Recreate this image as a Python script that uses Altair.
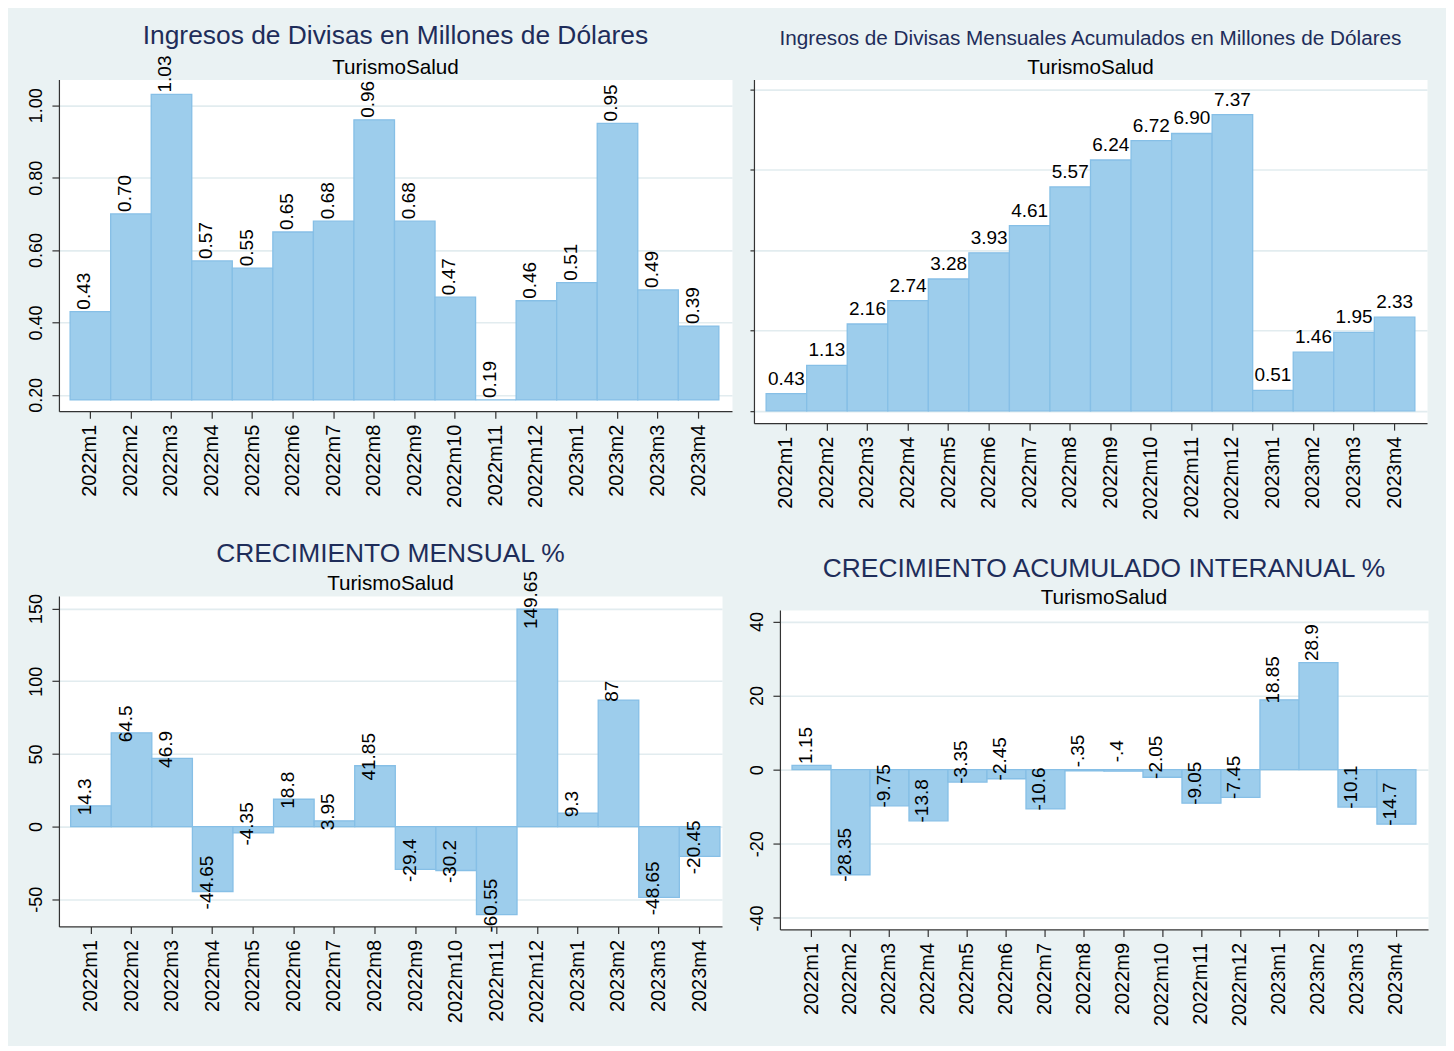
import altair as alt
import pandas as pd

# ---------------- data ----------------
meses = ["2022m1", "2022m2", "2022m3", "2022m4", "2022m5", "2022m6", "2022m7",
         "2022m8", "2022m9", "2022m10", "2022m11", "2022m12",
         "2023m1", "2023m2", "2023m3", "2023m4"]

ingresos = [0.43, 0.70, 1.03, 0.57, 0.55, 0.65, 0.68, 0.96, 0.68, 0.47,
            0.186, 0.46, 0.51, 0.95, 0.49, 0.39]
acumulado = [0.43, 1.13, 2.16, 2.74, 3.28, 3.93, 4.61, 5.57, 6.24, 6.72,
             6.90, 7.37, 0.51, 1.46, 1.95, 2.33]
mensual = [14.3, 64.5, 46.9, -44.65, -4.35, 18.8, 3.95, 41.85, -29.4, -30.2,
           -60.55, 149.65, 9.3, 87, -48.65, -20.45]
interanual = [1.15, -28.35, -9.75, -13.8, -3.35, -2.45, -10.6, -0.35, -0.4,
              -2.05, -9.05, -7.45, 18.85, 28.9, -10.1, -14.7]

subtitulo = "TurismoSalud"

# ---------------- style ----------------
FONT = "Liberation Sans"
BG = "#EAF2F3"
BAR_FILL = "#9DCDEC"
BAR_STROKE = "#86BFE6"
TITLE_COLOR = "#1E2D5A"
AXIS_COLOR = "#333333"
GRID_COLOR = "#E2ECEF"


def stata_num(v):
    s = f"{v:g}"
    if s.startswith("0."):
        s = s[1:]
    elif s.startswith("-0."):
        s = "-" + s[2:]
    return s


def make_df(values, base, fmt):
    return pd.DataFrame({
        "mes": meses,
        "v": values,
        "base": [base] * len(values),
        "lbl": [fmt(v) for v in values],
    })


def x_enc(padding_outer=0.3, align=0.5):
    scale = alt.Scale(paddingInner=0, paddingOuter=padding_outer, align=align)
    axis = alt.Axis(title=None, labelAngle=270, labelAlign="right",
                    labelBaseline="middle", labelFontSize=20, labelFont=FONT,
                    labelColor="black", tickSize=7, tickColor=AXIS_COLOR,
                    tickWidth=1.2, domainColor=AXIS_COLOR, domainWidth=1.2,
                    labelPadding=6, grid=False)
    return alt.X("mes:N", sort=meses, scale=scale, axis=axis)


def y_axis(values, labels=True, fmt=None, tick_size=7):
    kw = dict(title=None, values=values, grid=True, gridColor=GRID_COLOR,
              gridWidth=1.6, domainColor=AXIS_COLOR, domainWidth=1.2,
              tickColor=AXIS_COLOR, tickWidth=1.2, tickSize=tick_size)
    if labels:
        kw.update(labelAngle=270, labelAlign="center", labelBaseline="bottom",
                  labelFontSize=18, labelFont=FONT, labelColor="black",
                  labelPadding=6)
        if fmt:
            kw.update(format=fmt)
        else:
            kw.update(labelExpr="'' + datum.value")
    else:
        kw.update(labels=False)
    return alt.Axis(**kw)


def panel(df, title, title_size, domain, axis, text_props, width, height,
          padding_outer=0.3, align=0.5, title_offset=1, sub_pad=9,
          title_line_height=None):
    scale = alt.Scale(domain=domain, nice=False, zero=False)
    base = alt.Chart(df).encode(
        x=x_enc(padding_outer, align),
        y=alt.Y("v:Q", scale=scale, axis=axis),
    )
    bars = base.mark_bar(fill=BAR_FILL, stroke=BAR_STROKE,
                         strokeWidth=1.3).encode(y2=alt.Y2("base:Q"))
    text = base.mark_text(font=FONT, fontSize=19, color="black",
                          **text_props).encode(text="lbl:N")
    tkw = dict(text=title, subtitle=subtitulo,
               fontSize=title_size, font=FONT,
               color=TITLE_COLOR, fontWeight="normal",
               subtitleFont=FONT, subtitleFontSize=20.7,
               subtitleColor="black", subtitlePadding=sub_pad,
               anchor="middle", offset=title_offset)
    if title_line_height is not None:
        tkw["lineHeight"] = title_line_height
    return alt.layer(bars, text).properties(
        width=width, height=height, title=alt.TitleParams(**tkw),
    )


# ---------------- panels ----------------
tl = panel(make_df(ingresos, 0.186, lambda v: f"{v:.2f}"),
           "Ingresos de Divisas en Millones de Dólares", 26.4,
           [0.155, 1.071], y_axis([0.2, 0.4, 0.6, 0.8, 1.0], fmt=".2f"),
           dict(angle=270, align="left", baseline="alphabetic", dx=2),
           674, 332, padding_outer=0.3, align=0.46, title_offset=-22,
           sub_pad=8)

tr = panel(make_df(acumulado, 0, lambda v: f"{v:.2f}"),
           "Ingresos de Divisas Mensuales Acumulados en Millones de Dólares", 20.75,
           [-0.306, 8.24], y_axis([0, 2, 4, 6, 8], labels=False, tick_size=4),
           dict(angle=0, align="center", baseline="alphabetic", dy=-9),
           674, 344, padding_outer=0.3, title_offset=1, sub_pad=8)

bl = panel(make_df(mensual, 0, stata_num),
           "CRECIMIENTO MENSUAL %", 26.4,
           [-68.7, 158.7], y_axis([-50, 0, 50, 100, 150]),
           dict(angle=270, align="center", baseline="alphabetic", dx=9),
           664, 331, padding_outer=0.17, align=0.85, title_offset=-23,
           sub_pad=6.5)

br = panel(make_df(interanual, 0, stata_num),
           ["", "CRECIMIENTO ACUMULADO INTERANUAL %"], 26.4,
           [-43.1, 43.1], y_axis([-40, -20, 0, 20, 40]),
           dict(angle=270, align="center", baseline="alphabetic", dx=20),
           649, 320, padding_outer=0.31, title_offset=2, sub_pad=6,
           title_line_height=14)

chart = alt.concat(
    tl, tr, bl, br, columns=2, align="none",
    spacing={"row": 21, "column": 17},
).configure(
    background=BG,
    padding={"left": 20, "top": 14, "right": 18, "bottom": 19},
).configure_view(fill="white", strokeOpacity=0)

chart.save("out.html", embed_options={"renderer": "svg", "actions": False})
